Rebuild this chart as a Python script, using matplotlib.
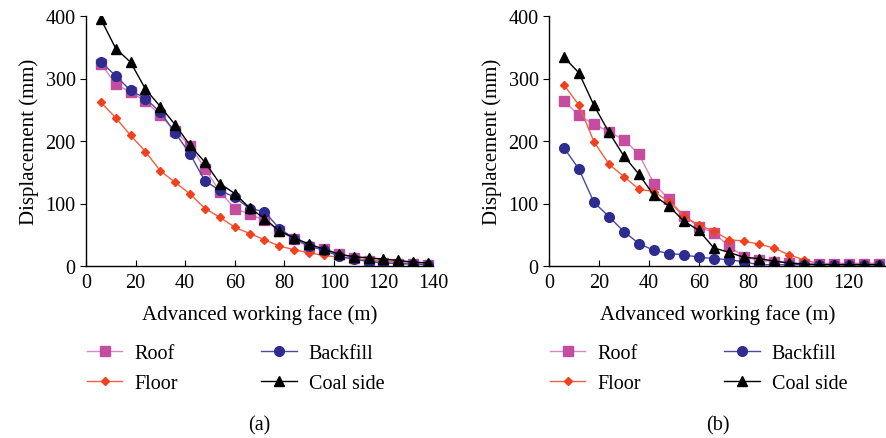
import matplotlib
matplotlib.use('Agg')
import matplotlib.pyplot as plt

plt.rcParams['font.family'] = ['Liberation Serif', 'DejaVu Serif']

# panel (a): advance 6..138 m
x_a = [6, 12, 18, 24, 30, 36, 42, 48, 54, 60, 66, 72, 78, 84, 90, 96, 102, 108, 114, 120, 126, 132, 138]
roof_a = [324, 291, 278, 264, 241, 216, 192, 156, 119, 92, 83, 73, 56, 43, 30, 27, 20, 13, 8, 5, 4, 3, 2]
floor_a = [262, 237, 209, 183, 152, 134, 115, 92, 78, 62, 52, 42, 32, 26, 21, 17, 14, 12, 10, 8, 7, 6, 5]
backfill_a = [327, 304, 281, 268, 246, 213, 179, 136, 121, 110, 92, 87, 60, 44, 32, 25, 16, 11, 7, 5, 4, 3, 2]
coal_a = [395, 348, 326, 283, 255, 226, 193, 166, 132, 116, 93, 76, 56, 45, 35, 27, 19, 15, 13, 11, 9, 6, 5]

# panel (b): advance 6..132 m
x_b = [6, 12, 18, 24, 30, 36, 42, 48, 54, 60, 66, 72, 78, 84, 90, 96, 102, 108, 114, 120, 126, 132]
roof_b = [264, 241, 227, 215, 202, 179, 132, 107, 80, 63, 53, 32, 15, 9, 7, 5, 4, 4, 4, 4, 4, 4]
floor_b = [290, 257, 199, 163, 143, 123, 119, 103, 80, 65, 56, 42, 40, 35, 29, 18, 10, 4, 4, 4, 4, 4]
backfill_b = [189, 155, 102, 79, 55, 36, 25, 20, 18, 14, 12, 10, 7, 2, 2, 2, 2, 2, 2, 2, 2, 2]
coal_b = [334, 309, 257, 214, 176, 147, 113, 96, 72, 57, 29, 22, 14, 12, 8, 5, 3, 2, 2, 2, 2, 2]

labels = ['Roof', 'Floor', 'Backfill', 'Coal side']
colors = ['#C44DA0', '#F0401E', '#2E2C8F', '#000000']
edge_line = ['#DA86C6', '#F26040', '#4A48A0', '#000000']
markers = ['s', 'D', 'o', '^']
msizes = [7, 4.5, 7, 7]

fig = plt.figure(figsize=(8.86, 4.39), dpi=100)
ax_a = fig.add_axes([86 / 886, 1 - 267 / 439, 347 / 886, 250 / 439])
ax_b = fig.add_axes([549 / 886, 1 - 267 / 439, 337 / 886, 250 / 439])

panels = [
    (ax_a, x_a, [roof_a, floor_a, backfill_a, coal_a], 140, [0, 20, 40, 60, 80, 100, 120, 140], '(a)', 347),
    (ax_b, x_b, [roof_b, floor_b, backfill_b, coal_b], 135, [0, 20, 40, 60, 80, 100, 120], '(b)', 337),
]

for ax, x, ys, xmax, xt, tag, wpx in panels:
    for y, lab, c, lc, m, ms in zip(ys, labels, colors, edge_line, markers, msizes):
        ax.plot(x, y, color=lc, lw=1.0, marker=m, ms=ms, mfc=c, mec=c, label=lab)
    ax.set_xlim(0, xmax)
    ax.set_ylim(0, 400)
    ax.set_xticks(xt)
    ax.set_yticks([0, 100, 200, 300, 400])
    for s in ['top', 'right']:
        ax.spines[s].set_visible(False)
    ax.spines['left'].set_linewidth(1.0)
    ax.spines['bottom'].set_linewidth(1.0)
    ax.tick_params(axis='x', direction='in', length=4, labelsize=14.5, pad=5)
    ax.tick_params(axis='y', direction='out', length=4, labelsize=14.5)
    ax.set_xlabel('Advanced working face (m)', fontsize=15, labelpad=9)
    ax.set_ylabel('Displacement (mm)', fontsize=15, labelpad=5)
    h, l = ax.get_legend_handles_labels()
    ax.legend(h, l, ncol=2, loc='upper left', bbox_to_anchor=(1 / wpx, -0.31),
              frameon=False, fontsize=14.5, handlelength=1.75, columnspacing=4.15,
              labelspacing=0.55, handletextpad=0.6, borderpad=0, borderaxespad=0)
    ax.text(0.5, -0.635, tag, transform=ax.transAxes, ha='center', va='center', fontsize=14.5)

fig.savefig('out.png', dpi=100)
